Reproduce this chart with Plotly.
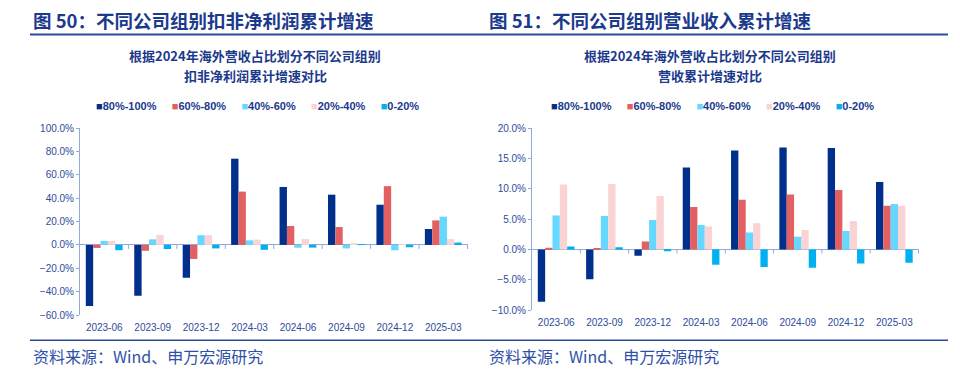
import plotly.graph_objects as go

categories = ["2023-06", "2023-09", "2023-12", "2024-03", "2024-06", "2024-09", "2024-12", "2025-03"]
series_names = ["80%-100%", "60%-80%", "40%-60%", "20%-40%", "0-20%"]
series_colors = ["#00308C", "#E36062", "#66D8FF", "#FAD4D4", "#00B0F0"]

# Left: 扣非净利润累计增速 (%)
profit_80_100 = [-52.3, -43.5, -28.1, 73.8, 49.6, 43.0, 34.4, 13.6]
profit_60_80 = [-2.6, -5.0, -12.0, 45.6, 16.2, 15.3, 50.3, 21.0]
profit_40_60 = [3.4, 4.8, 8.3, 3.9, -2.4, -3.0, -4.6, 24.2]
profit_20_40 = [3.4, 8.6, 8.3, 4.6, 5.0, 1.0, 0.2, 5.0]
profit_0_20 = [-4.5, -3.5, -3.0, -4.2, -2.3, 0.2, -2.0, 2.0]

# Right: 营业收入累计增速 (%)
rev_80_100 = [-8.6, -4.9, -1.05, 13.5, 16.3, 16.8, 16.7, 11.1]
rev_60_80 = [0.3, 0.2, 1.3, 7.0, 8.2, 9.05, 9.8, 7.2]
rev_40_60 = [5.6, 5.5, 4.85, 4.05, 2.8, 2.1, 3.05, 7.5]
rev_20_40 = [10.7, 10.8, 8.8, 3.8, 4.3, 3.2, 4.7, 7.2]
rev_0_20 = [0.5, 0.35, -0.3, -2.5, -2.9, -3.0, -2.3, -2.2]

left_series = [profit_80_100, profit_60_80, profit_40_60, profit_20_40, profit_0_20]
right_series = [rev_80_100, rev_60_80, rev_40_60, rev_20_40, rev_0_20]

title_left = "图 50：不同公司组别扣非净利润累计增速"
title_right = "图 51：不同公司组别营业收入累计增速"
sub_line1 = "根据2024年海外营收占比划分不同公司组别"
sub_left2 = "扣非净利润累计增速对比"
sub_right2 = "营收累计增速对比"
source_text = "资料来源：Wind、申万宏源研究"

W, H = 960, 384
def py(px):
    return 1 - px / H
def pxx(px):
    return px / W

TITLE_C = "#1C3A8C"
LINE_C = "#2B4BA0"
TICK_C = "#2E4B9B"
AXIS_C = "#8FAADC"
CJK = "Noto Sans CJK SC"
LAT = "Liberation Sans, Arial"

fig = go.Figure()
for names_vals, xa, ya in [(left_series, "x", "y"), (right_series, "x2", "y2")]:
    for name, color, vals in zip(series_names, series_colors, names_vals):
        fig.add_trace(go.Bar(x=categories, y=vals, name=name, marker=dict(color=color, line=dict(width=0)),
                             xaxis=xa, yaxis=ya, showlegend=False))

xcommon = dict(type="category", showline=False, ticks="", showgrid=False, zeroline=False,
               ticklabelstandoff=5, tickfont=dict(family=LAT, size=10, color=TICK_C))
ycommon = dict(showline=True, linecolor=AXIS_C, linewidth=1, ticks="outside", ticklen=3, tickcolor=AXIS_C,
               showgrid=False, zeroline=True, zerolinecolor=AXIS_C, zerolinewidth=1,
               ticksuffix="%", tickformat=".1f", tickfont=dict(family=LAT, size=10, color=TICK_C))

fig.update_layout(
    width=W, height=H, margin=dict(l=0, r=0, t=0, b=0),
    paper_bgcolor="white", plot_bgcolor="white",
    barmode="group", bargap=0.24, bargroupgap=0,
    xaxis=dict(domain=[pxx(80), pxx(468)], anchor="y", **xcommon),
    yaxis=dict(domain=[py(319), py(126)], anchor="x", range=[-60, 100], dtick=20, **ycommon),
    xaxis2=dict(domain=[pxx(532), pxx(919)], anchor="y2", **xcommon),
    yaxis2=dict(domain=[py(314), py(126)], anchor="x2", range=[-10, 20], dtick=5, **ycommon),
)

shapes = []
# category boundary tick marks on the zero line
for xr, yr in [("x", "y"), ("x2", "y2")]:
    for i in range(1, len(categories) + 1):
        shapes.append(dict(type="line", xref=xr, yref=yr, x0=i - 0.5, x1=i - 0.5,
                           ysizemode="pixel", yanchor=0, y0=0, y1=-4,
                           line=dict(color=AXIS_C, width=1)))
# title underline and footer line
shapes.append(dict(type="line", xref="paper", yref="paper", x0=pxx(30), x1=pxx(948), y0=py(29.5), y1=py(29.5),
                   line=dict(color=LINE_C, width=2)))
shapes.append(dict(type="line", xref="paper", yref="paper", x0=pxx(30), x1=pxx(948), y0=py(345), y1=py(345),
                   line=dict(color=LINE_C, width=1.5)))
fig.update_layout(shapes=shapes)

def legend_text():
    parts = []
    for name, color in zip(series_names, series_colors):
        parts.append(f"<span style='color:{color}'>■</span>{name}")
    return "&nbsp;&nbsp;&nbsp;&nbsp;&nbsp;".join(parts)

ann = []
for x0, ttl, s2, cx in [(31, title_left, sub_left2, 255), (487, title_right, sub_right2, 710)]:
    ann.append(dict(text=f"<b>{ttl}</b>", x=pxx(x0), y=py(14.5), xref="paper", yref="paper",
                    xanchor="left", yanchor="middle", showarrow=False,
                    font=dict(family=CJK, size=18.5, color=TITLE_C)))
    ann.append(dict(text=f"<b>{sub_line1}</b>", x=pxx(cx), y=py(51), xref="paper", yref="paper",
                    xanchor="center", yanchor="middle", showarrow=False,
                    font=dict(family=CJK, size=13, color=TITLE_C)))
    ann.append(dict(text=f"<b>{s2}</b>", x=pxx(cx), y=py(72), xref="paper", yref="paper",
                    xanchor="center", yanchor="middle", showarrow=False,
                    font=dict(family=CJK, size=13, color=TITLE_C)))
    ann.append(dict(text=f"<b>{legend_text()}</b>", x=pxx(cx + 2), y=py(103), xref="paper", yref="paper",
                    xanchor="center", yanchor="middle", showarrow=False,
                    font=dict(family=LAT, size=11, color=TITLE_C)))
    ann.append(dict(text=source_text, x=pxx(x0), y=py(361), xref="paper", yref="paper",
                    xanchor="left", yanchor="middle", showarrow=False,
                    font=dict(family=CJK, size=16, color="#2F50A8")))
fig.update_layout(annotations=ann)

fig.write_html("out.html", config={"displayModeBar": False},
               post_script="document.body.style.margin='0';document.body.style.padding='0';")
